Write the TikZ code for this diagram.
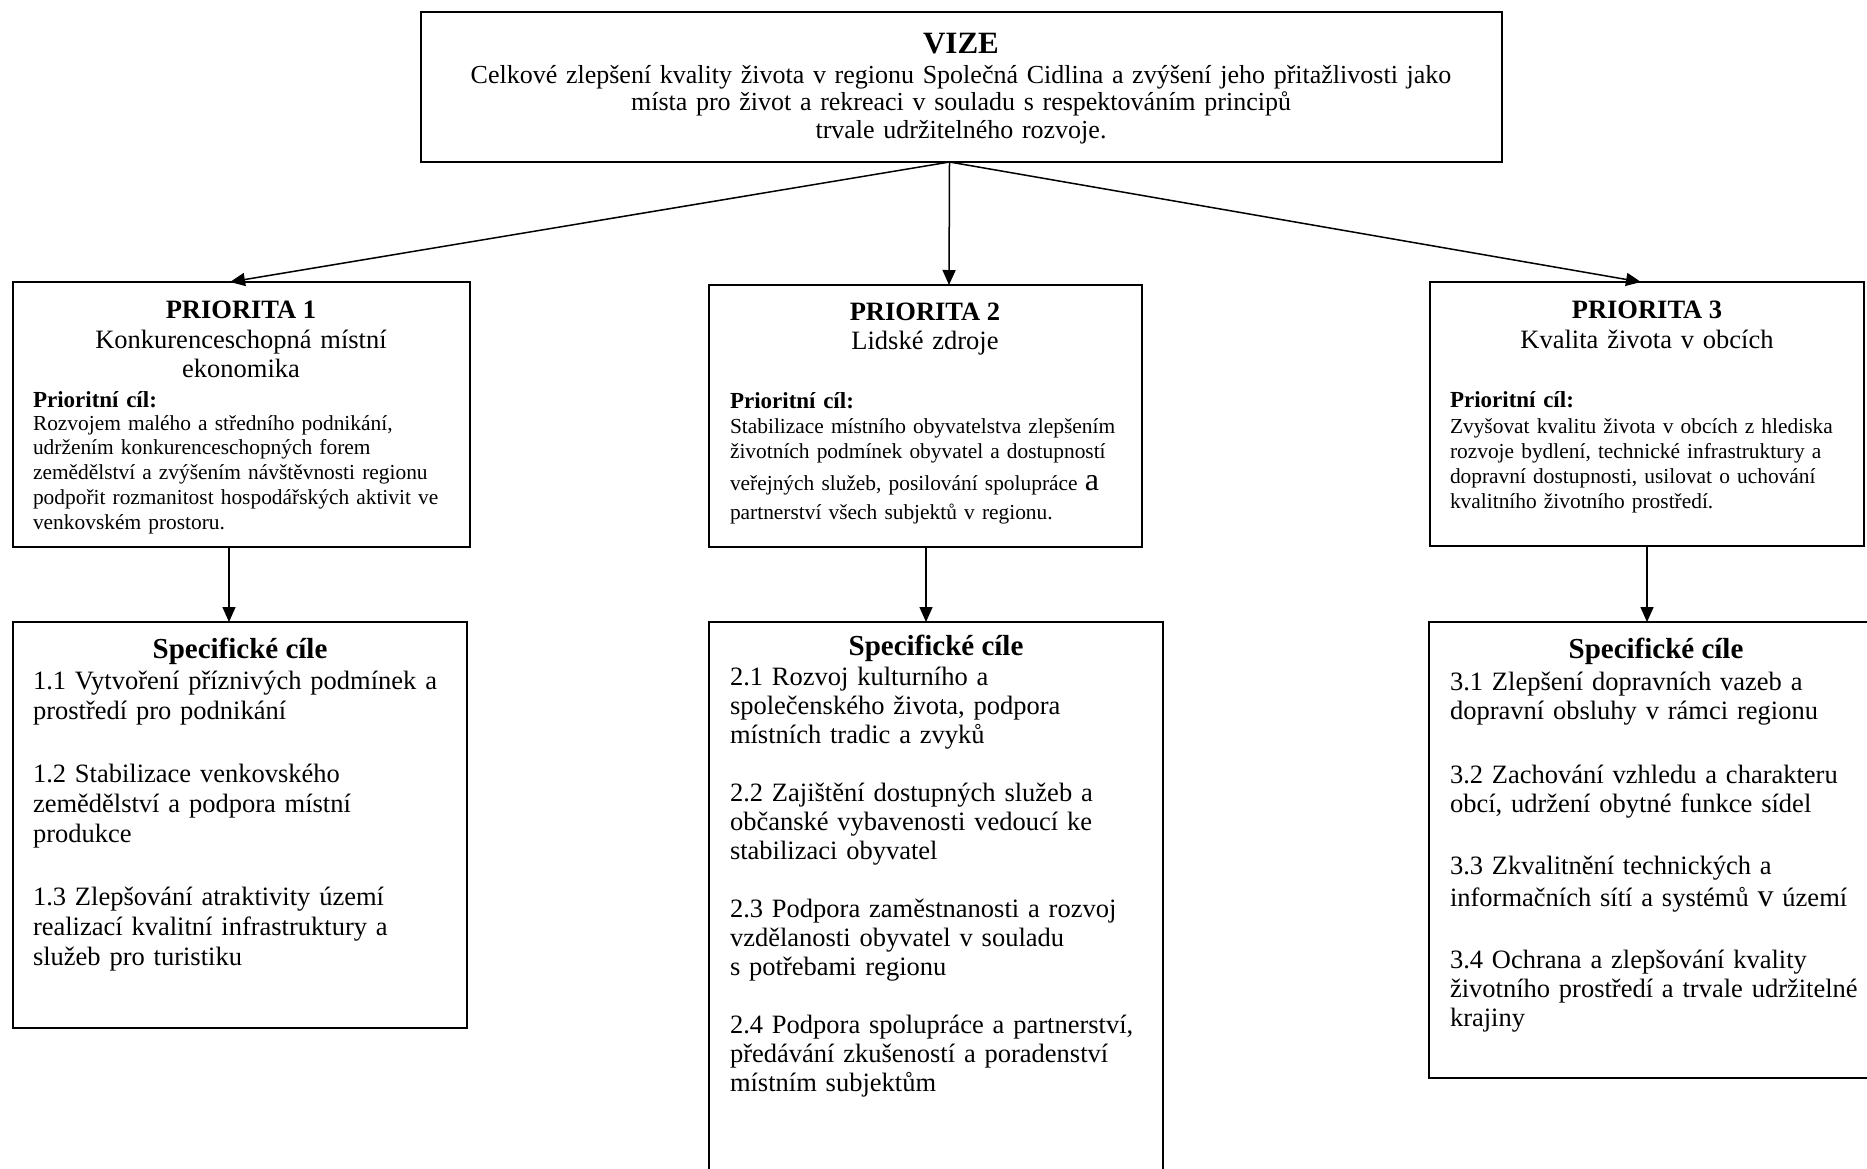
\documentclass[tikz,border=0pt]{standalone}
\usepackage{fontspec}
\setmainfont{Liberation Serif}
\usetikzlibrary{arrows.meta}
\newcommand{\fs}[2]{\fontsize{#1pt}{#2pt}\selectfont}
\begin{document}
\begin{tikzpicture}[x=1pt,y=-1pt,
  box/.style={draw, line width=1.8pt, inner sep=0pt, outer sep=0pt, anchor=north west},
  arr/.style={-{Triangle[length=15pt,width=13pt]}, line width=1.5pt},
  blk/.style={inner sep=0pt, outer sep=0pt, anchor=base west, align=left, text width=600pt},
  ctr/.style={inner sep=0pt, outer sep=0pt, anchor=base, align=center, text width=#1},
  hd/.style={inner sep=0pt, outer sep=0pt, anchor=base}]
\useasboundingbox (0,0) rectangle (1867,1168);
\clip (0,0) rectangle (1867,1168);
% boxes
\node[box, minimum width=1081pt, minimum height=150pt] (vize) at (421,12) {};
\node[box, minimum width=457pt, minimum height=265pt] (p1) at (13,282) {};
\node[box, minimum width=433pt, minimum height=262pt] (p2) at (709,285) {};
\node[box, minimum width=434pt, minimum height=264pt] (p3) at (1430,282) {};
\node[box, minimum width=454pt, minimum height=406pt] (s1) at (13,622) {};
\node[box, minimum width=454pt, minimum height=620pt] (s2) at (709,622) {};
\node[box, minimum width=455pt, minimum height=456pt] (s3) at (1429,622) {};
% arrows
\draw[arr] ([xshift=-12pt]vize.south) -- ([xshift=-11.5pt]p1.north);
\draw[arr] ([xshift=-12pt]vize.south) -- ([xshift=23.5pt]p2.north);
\draw[arr] ([xshift=-12pt]vize.south) -- ([xshift=-6pt]p3.north);
\draw[arr] ([xshift=-11pt]s1.north |- p1.south) -- ([xshift=-11pt]s1.north);
\draw[arr] ([xshift=-10pt]s2.north |- p2.south) -- ([xshift=-10pt]s2.north);
\draw[arr] (p3.south) -- (p3.south |- s3.north);
% VIZE
\node[hd, font=\fs{31}{31}\bfseries] (vizeh) at (961,53) {VIZE};
\node[ctr=1070pt, font=\fs{26}{27.5}] (vizeb) at (961,83) {Celkové zlepšení kvality života v regionu Společná Cidlina a zvýšení jeho přitažlivosti jako\\místa pro život a rekreaci v souladu s respektováním principů\\trvale udržitelného rozvoje.};
% Priorita 1
\node[hd, font=\fs{26.5}{26.5}\bfseries] (p1h) at (241,318) {PRIORITA 1};
\node[ctr=440pt, font=\fs{26.5}{29}] (p1s) at (241,348) {Konkurenceschopná místní\\ekonomika};
\node[blk, font=\fs{23}{23}\bfseries] (p1c) at (33,407) {Prioritní cíl:};
\node[blk, font=\fs{21.4}{24.75}] (p1t) at (33,430) {Rozvojem malého a středního podnikání,\\udržením konkurenceschopných forem\\zemědělství a zvýšením návštěvnosti regionu\\podpořit rozmanitost hospodářských aktivit ve\\venkovském prostoru.};
% Priorita 2
\node[hd, font=\fs{26.5}{26.5}\bfseries] (p2h) at (925,320) {PRIORITA 2};
\node[ctr=420pt, font=\fs{26.5}{29}] (p2s) at (925,349) {Lidské zdroje};
\node[blk, font=\fs{23}{23}\bfseries] (p2c) at (730,408) {Prioritní cíl:};
\node[blk, font=\fs{21.4}{25}] (p2t) at (730,433) {Stabilizace místního obyvatelstva zlepšením\\životních podmínek obyvatel a dostupností\\[7pt]veřejných služeb, posilování spolupráce {\fs{32}{25}a}\\[4pt]partnerství všech subjektů v regionu.};
% Priorita 3
\node[hd, font=\fs{26.5}{26.5}\bfseries] (p3h) at (1647,318) {PRIORITA 3};
\node[ctr=420pt, font=\fs{26.5}{29}] (p3s) at (1647,348) {Kvalita života v obcích};
\node[blk, font=\fs{23}{23}\bfseries] (p3c) at (1450,407) {Prioritní cíl:};
\node[blk, font=\fs{21.4}{25}] (p3t) at (1450,433) {Zvyšovat kvalitu života v obcích z hlediska\\rozvoje bydlení, technické infrastruktury a\\dopravní dostupnosti, usilovat o uchování\\kvalitního životního prostředí.};
% Specifické cíle 1
\node[hd, font=\fs{29}{29}\bfseries] (s1h) at (240,658) {Specifické cíle};
\node[blk, font=\fs{26.5}{30}] (s1t) at (33,689) {1.1 Vytvoření příznivých podmínek a\\prostředí pro podnikání\\[33pt]1.2 Stabilizace venkovského\\zemědělství a podpora místní\\produkce\\[33pt]1.3 Zlepšování atraktivity území\\realizací kvalitní infrastruktury a\\služeb pro turistiku};
% Specifické cíle 2
\node[hd, font=\fs{29}{29}\bfseries] (s2h) at (936,655) {Specifické cíle};
\node[blk, font=\fs{26.5}{29}] (s2t) at (730,685) {2.1 Rozvoj kulturního a\\společenského života, podpora\\místních tradic a zvyků\\[29pt]2.2 Zajištění dostupných služeb a\\občanské vybavenosti vedoucí ke\\stabilizaci obyvatel\\[29pt]2.3 Podpora zaměstnanosti a rozvoj\\vzdělanosti obyvatel v souladu\\s potřebami regionu\\[29pt]2.4 Podpora spolupráce a partnerství,\\předávání zkušeností a poradenství\\místním subjektům};
% Specifické cíle 3
\node[hd, font=\fs{29}{29}\bfseries] (s3h) at (1656,658) {Specifické cíle};
\node[blk, font=\fs{26.5}{29}] (s3t) at (1450,690) {3.1 Zlepšení dopravních vazeb a\\dopravní obsluhy v rámci regionu\\[35pt]3.2 Zachování vzhledu a charakteru\\obcí, udržení obytné funkce sídel\\[33pt]3.3 Zkvalitnění technických a\\[3pt]informačních sítí a systémů {\fs{32}{29}v} území\\[33pt]3.4 Ochrana a zlepšování kvality\\životního prostředí a trvale udržitelné\\krajiny};
\end{tikzpicture}
\end{document}
